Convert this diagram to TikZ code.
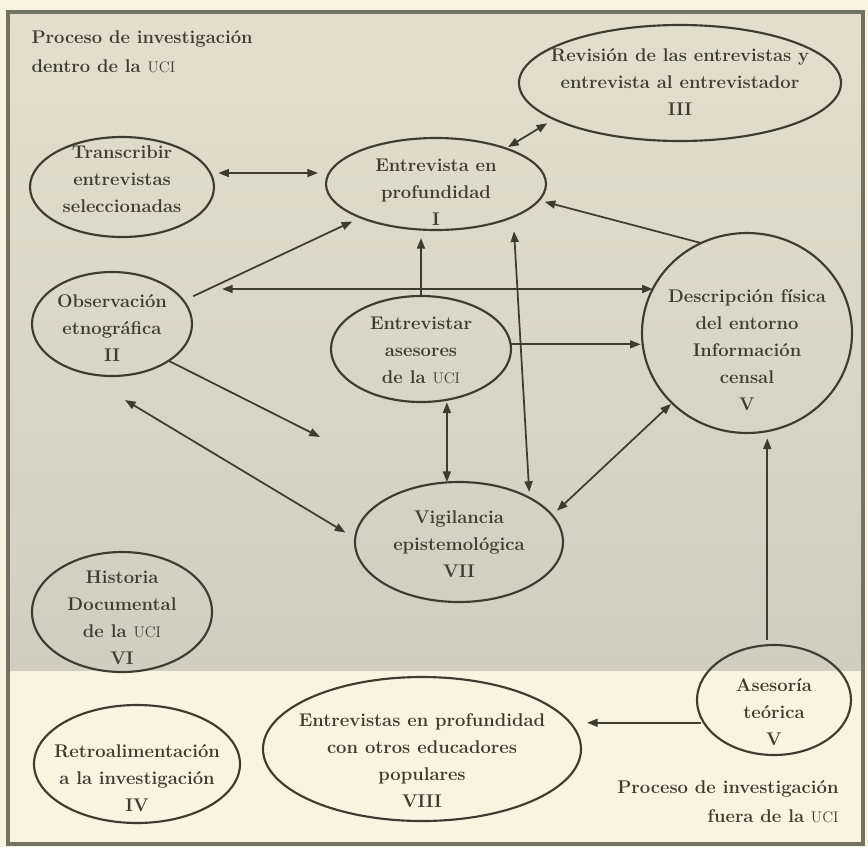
\documentclass[tikz,border=0pt]{standalone}
\definecolor{bgtop}{RGB}{226,223,204}
\definecolor{bgtopdark}{RGB}{208,207,191}
\definecolor{bgbot}{RGB}{248,244,223}
\definecolor{framegray}{RGB}{112,114,98}
\definecolor{ink}{RGB}{60,60,48}
\usepackage{tikz}
\usetikzlibrary{shapes.geometric,arrows.meta}
\tikzset{every picture/.style={line width=0.75pt}}
\newcommand{\uci}{{\mdseries\fontsize{11.5}{12}\selectfont UCI}}
\tikzset{
  elip/.style={ellipse, draw=ink, line width=1.6pt, inner sep=0pt, outer sep=0pt},
  txt/.style={align=center, text=ink, inner sep=0pt, font={\fontsize{13.8}{20.25}\selectfont\bfseries}},
  hdr/.style={text=ink, inner sep=0pt, font={\fontsize{13.8}{21.75}\selectfont\bfseries}},
  arr/.style={draw=ink, line width=1.3pt, -{Triangle[length=8pt,width=6pt]}},
  dbl/.style={draw=ink, line width=1.3pt, {Triangle[length=8pt,width=6pt]}-{Triangle[length=8pt,width=6pt]}},
}

\begin{document}
\begin{tikzpicture}[x=0.75pt,y=0.75pt,yscale=-1,xscale=1]
\useasboundingbox (0,0) rectangle (868,847);

%Shape: Background
\fill[bgbot] (0,0) rectangle (868,847);
\shade[top color=bgtop, bottom color=bgtopdark] (8,12) rectangle (863,670);
\draw[framegray, line width=3pt] (8,12) rectangle (863,844);

%Shape: Ellipse [Transcribir]
\node[elip, minimum width=138pt, minimum height=75pt] (trans) at (122,187) {};
% Text Node
\node[txt] (trans-t) at (122,179) {Transcribir\\entrevistas\\seleccionadas};
%Shape: Ellipse [Entrevista I]
\node[elip, minimum width=165pt, minimum height=69pt] (ent) at (436,184) {};
% Text Node
\node[txt] (ent-t) at (436,192) {Entrevista en\\profundidad\\I};
%Shape: Ellipse [Revision III]
\node[elip, minimum width=241.5pt, minimum height=87pt] (rev) at (680,83) {};
% Text Node
\node[txt] (rev-t) at (680,82) {Revisión de las entrevistas y\\entrevista al entrevistador\\III};
%Shape: Ellipse [Observacion II]
\node[elip, minimum width=120pt, minimum height=78pt] (obs) at (112,324) {};
% Text Node
\node[txt] (obs-t) at (112,328) {Observación\\etnográfica\\II};
%Shape: Ellipse [Asesores]
\node[elip, minimum width=135pt, minimum height=79.5pt] (ases) at (421,349) {};
% Text Node
\node[txt] (ases-t) at (421,350) {Entrevistar\\asesores\\de la \uci};
%Shape: Ellipse [Descripcion V]
\node[elip, minimum width=157.5pt, minimum height=150pt] (desc) at (747,333) {};
% Text Node
\node[txt] (desc-t) at (747,350) {Descripción física\\del entorno\\Información\\censal\\V};
%Shape: Ellipse [Vigilancia VII]
\node[elip, minimum width=156pt, minimum height=90pt] (vig) at (459,542) {};
% Text Node
\node[txt] (vig-t) at (459,544) {Vigilancia\\epistemológica\\VII};
%Shape: Ellipse [Historia VI]
\node[elip, minimum width=135pt, minimum height=90pt] (hist) at (122,612) {};
% Text Node
\node[txt] (hist-t) at (122,618) {Historia\\Documental\\de la \uci\\VI};
%Shape: Ellipse [Retroalimentacion IV]
\node[elip, minimum width=154.5pt, minimum height=88.5pt] (retro) at (137,764) {};
% Text Node
\node[txt] (retro-t) at (137,778) {Retroalimentación\\a la investigación\\IV};
%Shape: Ellipse [Educadores VIII]
\node[elip, minimum width=238.5pt, minimum height=108pt] (edu) at (422,749) {};
% Text Node
\node[txt] (edu-t) at (422,761) {Entrevistas en profundidad\\con otros educadores\\populares\\VIII};
%Shape: Ellipse [Asesoria V]
\node[elip, minimum width=115.5pt, minimum height=82.5pt] (teo) at (774,700) {};
% Text Node
\node[txt] (teo-t) at (774,712) {Asesoría\\teórica\\V};

% Text Node
\node[hdr, align=left, anchor=north west] (hdr-in) at (31,30) {Proceso de investigación\\dentro de la \uci};
% Text Node
\node[hdr, align=right, anchor=north east] (hdr-out) at (839,780) {Proceso de investigación\\fuera de la \uci};

% free ends
\coordinate (obsR) at (222,289);
\coordinate (obsT) at (320,437);
\coordinate (obsB) at (125,400);

%Straight Lines
\draw[dbl, shorten <=6pt, shorten >=6pt] (trans.9) -- (trans.9 -| ent.west);
\draw[dbl, shorten <=2pt, shorten >=6pt] (ent.27) -- (rev.196);
\draw[arr, shorten <=8pt, shorten >=7pt] (obs.18) -- (ent.204);
\draw[dbl] (obsR) -- (obsR -| desc.155);
\draw[arr, shorten >=6pt] (ases.north) -- (ases.north |- ent.south);
\draw[dbl, shorten <=11pt, shorten >=4.5pt] (ent.-23.5) -- (vig.32);
\draw[arr, shorten >=4.5pt] (desc.117) -- (ent.-9.5);
\draw[arr, shorten >=1pt] (ases.3) -- (ases.3 -| desc.west);
\draw[dbl, shorten <=2pt] (ases.-63) -- (ases.-63 |- vig.north);
\draw[dbl, shorten <=5pt, shorten >=1pt] (vig.16) -- (desc.223);
\draw[arr] (obs.-33) -- (obsT);
\draw[dbl, shorten >=8.5pt] (obsB) -- (vig.178);
\draw[arr, shorten <=4pt, shorten >=4pt] (teo.97) -- (teo.97 |- desc.south);
\draw[arr, shorten <=2pt, shorten >=4.5pt] (teo.198) -- (teo.198 -| edu.east);

\end{tikzpicture}
\end{document}
